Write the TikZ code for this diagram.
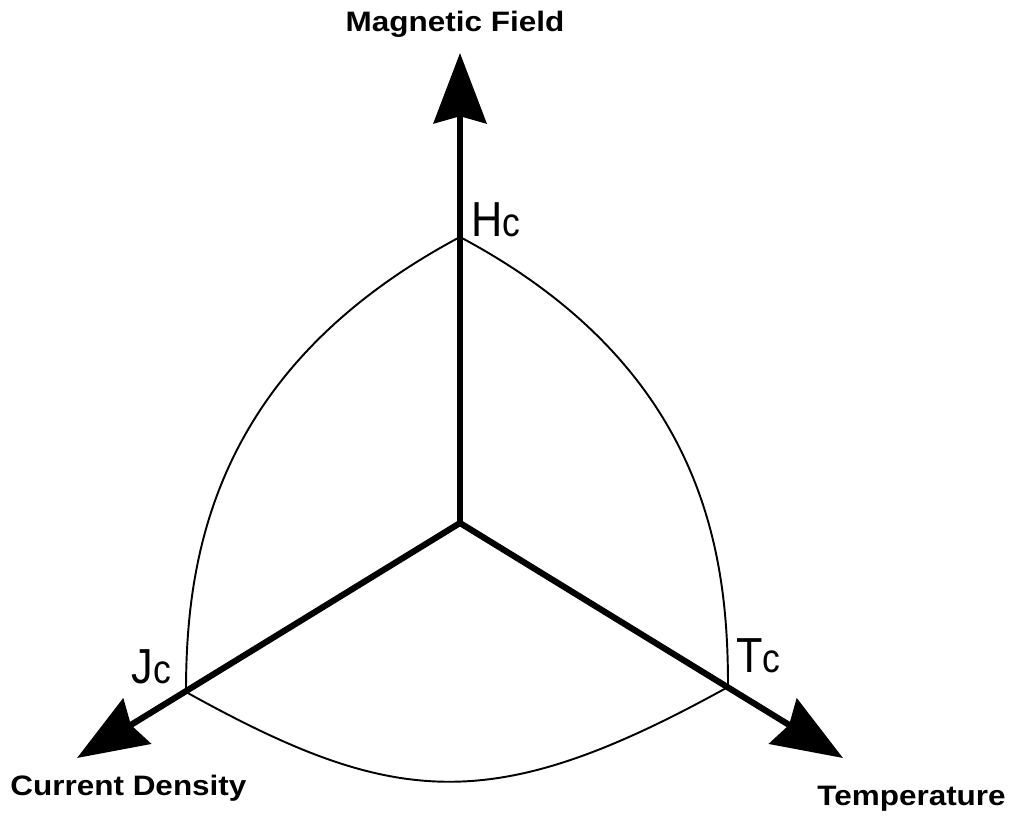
\documentclass[tikz,border=0pt]{standalone}
\usepackage{fontspec}
\newfontfamily\axisfont[FakeStretch=1.12]{Liberation Sans}
\newfontfamily\critfont[FakeStretch=0.88]{Liberation Sans}
\usetikzlibrary{arrows.meta,calc,positioning}

\tikzset{
  axis/.style={line width=3.5pt, line cap=round, -{Stealth[length=40pt,width=30pt,inset=4pt]}},
  bound/.style={line width=1.1pt},
  axislbl/.style={font=\axisfont\bfseries\fontsize{16}{18}\selectfont, inner sep=0pt},
  critlbl/.style={font=\critfont\fontsize{28}{30}\selectfont, inner sep=0pt, anchor=base west}
}
\newcommand{\critsub}[1]{#1{\fontsize{23}{25}\selectfont c}}

\begin{document}
\begin{tikzpicture}[x=0.02cm, y=0.02cm]
    \useasboundingbox (0,0) rectangle (1013,819);

    % Origin, critical points and arrow tips
    \coordinate (o) at (460,296);
    \coordinate (hc) at (460,582);
    \coordinate (jc) at (186,127);
    \coordinate (tc) at (728,132);
    \coordinate (htip) at (460,766);
    \coordinate (jtip) at (77,61);
    \coordinate (ttip) at (843,61);

    % Critical surface
    \draw[bound] (hc) .. controls ($(hc)+(-248,-132)$) and ($(jc)+(0,133)$) .. (jc);
    \draw[bound] (hc) .. controls ($(hc)+(248,-132)$) and ($(tc)+(0,128)$) .. (tc);
    \draw[bound] (jc) .. controls ($(jc)+(209,-116)$) and ($(tc)+(-235,-130)$) .. (tc);

    % Axes
    \foreach \tip in {htip, jtip, ttip}
        \draw[axis] (o) -- (\tip);

    % Axis names
    \node[axislbl, anchor=base] (field) at (455,787) {Magnetic Field};
    \node[axislbl, anchor=base west] (density) at (10,24) {Current Density};
    \node[axislbl, anchor=base west] (temp) at (817,14) {Temperature};

    % Critical values
    \node[critlbl] (hclbl) at (471,582) {\critsub{H}};
    \node[critlbl] (jclbl) at (131,136) {\critsub{J}};
    \node[critlbl] (tclbl) at (736,147) {\critsub{T}};
\end{tikzpicture}
\end{document}
